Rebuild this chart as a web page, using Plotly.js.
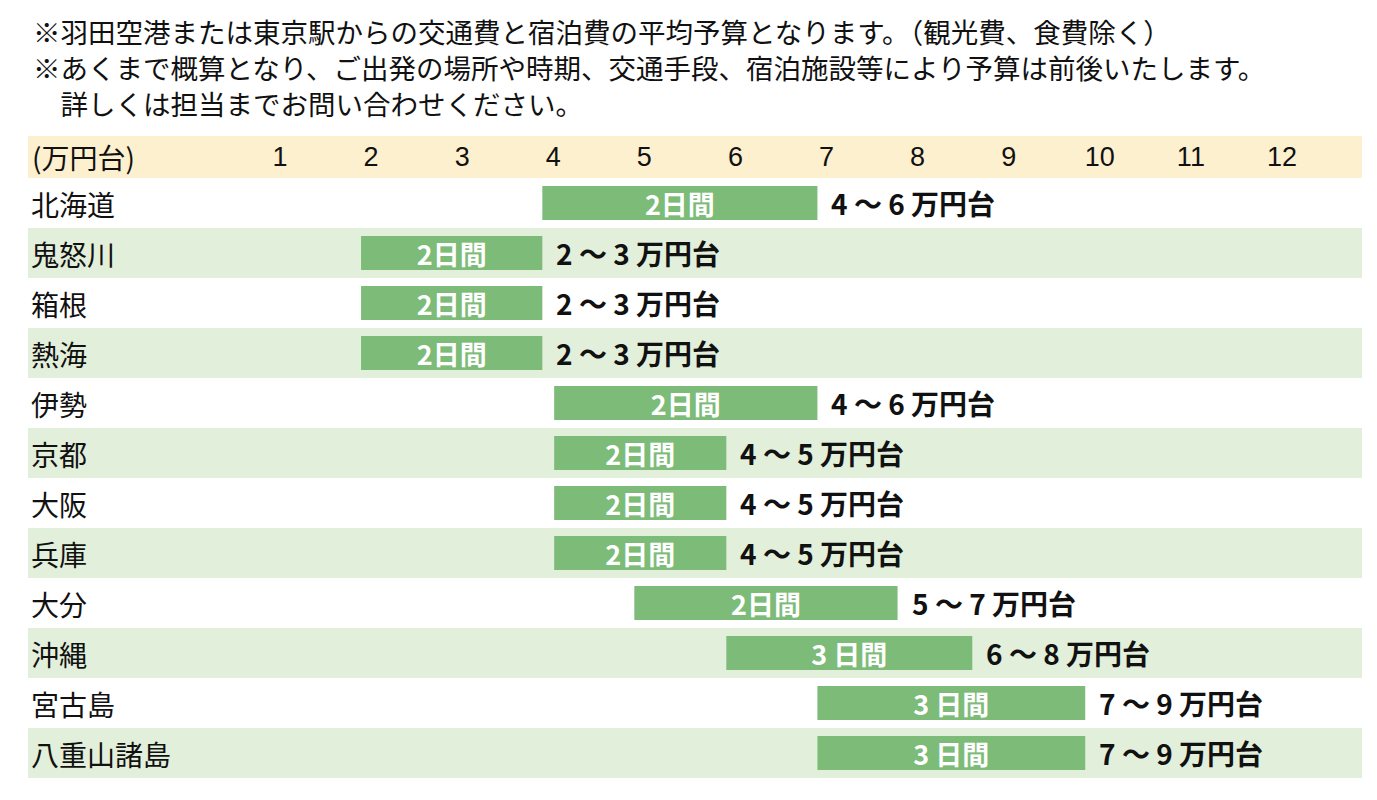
<!DOCTYPE html>
<html>
<head>
<meta charset="utf-8">
<script src="https://cdn.plot.ly/plotly-3.0.1.min.js"></script>
<style>html,body{margin:0;padding:0;background:#fff;}#chart{width:1377px;height:800px;}</style>
</head>
<body>
<div id="chart"></div>
<script>
// Data (万円)
const regions = ["北海道","鬼怒川","箱根","熱海","伊勢","京都","大阪","兵庫","大分","沖縄","宮古島","八重山諸島"];
const barStart = [3.88, 1.89, 1.89, 1.89, 4.01, 4.01, 4.01, 4.01, 4.89, 5.90, 6.90, 6.90];
const barEnd   = [6.90, 3.88, 3.88, 3.88, 6.90, 5.90, 5.90, 5.90, 7.78, 8.60, 9.84, 9.84];
const stayLabels = ["2日間","2日間","2日間","2日間","2日間","2日間","2日間","2日間","2日間","3 日間","3 日間","3 日間"];
const rangeLabels = ["4 ～ 6 万円台","2 ～ 3 万円台","2 ～ 3 万円台","2 ～ 3 万円台","4 ～ 6 万円台","4 ～ 5 万円台","4 ～ 5 万円台","4 ～ 5 万円台","5 ～ 7 万円台","6 ～ 8 万円台","7 ～ 9 万円台","7 ～ 9 万円台"];
const tickValues = [1,2,3,4,5,6,7,8,9,10,11,12];
const tickLabels = ["1","2","3","4","5","6","7","8","9","10","11","12"];
const unitLabel = "(万円台)";
const noteLines = [
  "※羽田空港または東京駅からの交通費と宿泊費の平均予算となります。（観光費、食費除く）",
  "※あくまで概算となり、ご出発の場所や時期、交通手段、宿泊施設等により予算は前後いたします。",
  "　詳しくは担当までお問い合わせください。"
];

const JP = '"Noto Sans CJK JP", "Noto Sans", sans-serif';
const GREEN = '#7dbb78';
const STRIPE = '#e2efda';
const HEADER = '#fdf0cf';

const barTrace = {
  type: 'bar',
  orientation: 'h',
  y: regions,
  base: barStart,
  x: barEnd.map((e, i) => e - barStart[i]),
  width: 0.68,
  marker: {color: GREEN, line: {width: 0}},
  text: stayLabels,
  textposition: 'inside',
  insidetextanchor: 'middle',
  constraintext: 'none',
  textangle: 0,
  insidetextfont: {family: JP, size: 27, color: '#ffffff', weight: 'bold'},
  hoverinfo: 'skip',
  showlegend: false
};

const shapes = [];
// header band
shapes.push({type: 'rect', xref: 'paper', yref: 'paper', x0: 0, x1: 1, y0: 1, y1: 1 + 42/600,
  fillcolor: HEADER, line: {width: 0}, layer: 'below'});
regions.forEach((r, i) => {
  if (i % 2 === 1) {
    shapes.push({type: 'rect', xref: 'paper', yref: 'y', x0: 0, x1: 1, y0: i - 0.5, y1: i + 0.5,
      fillcolor: STRIPE, line: {width: 0}, layer: 'below'});
  }
});

const annotations = regions.map((r, i) => ({
  x: barEnd[i], y: r, xref: 'x', yref: 'y',
  text: rangeLabels[i], showarrow: false, xanchor: 'left', yanchor: 'middle', xshift: 12,
  font: {family: JP, size: 28, color: '#111111', weight: 'bold'}
}));
annotations.push({
  xref: 'paper', yref: 'paper', x: 0, y: 1 + 21/600, xshift: 2,
  text: unitLabel, showarrow: false, xanchor: 'left', yanchor: 'middle',
  font: {family: JP, size: 28, color: '#111111'}
});

const layout = {
  width: 1377, height: 800,
  margin: {l: 28, r: 15, t: 178, b: 22, pad: 0},
  paper_bgcolor: '#ffffff', plot_bgcolor: 'rgba(0,0,0,0)',
  title: {
    text: noteLines.join('<br>'),
    xref: 'container', yref: 'container', x: 33/1377, xanchor: 'left',
    y: 1 - 14/800, yanchor: 'top',
    font: {family: JP, size: 27.5, color: '#111111'}
  },
  xaxis: {
    range: [(28 - 188.9)/91.09, (1362 - 188.9)/91.09],
    side: 'top', tickvals: tickValues, ticktext: tickLabels,
    showgrid: false, zeroline: false, showline: false, ticks: '',
    tickfont: {family: '"Liberation Sans", Arial, sans-serif', size: 27, color: '#111111'},
    ticklabelstandoff: 6, fixedrange: true
  },
  yaxis: {
    type: 'category', categoryorder: 'array', categoryarray: regions,
    range: [11.5, -0.5], showgrid: false, zeroline: false, showline: false, ticks: '',
    ticklabelposition: 'inside', ticklabelshift: -3,
    tickfont: {family: JP, size: 28, color: '#111111'},
    fixedrange: true
  },
  bargap: 0.32,
  shapes: shapes,
  annotations: annotations
};

Plotly.newPlot('chart', [barTrace], layout, {displayModeBar: false, staticPlot: true}).then(function(gd) {
  // push the multi-line title down so its first line sits where the reference has it
  var t = gd.querySelector('.gtitle');
  if (t) {
    var bb = t.getBBox();
    var dy = 11 - bb.y;
    t.setAttribute('transform', 'translate(0,' + dy + ')');
  }
});
</script>
</body>
</html>
